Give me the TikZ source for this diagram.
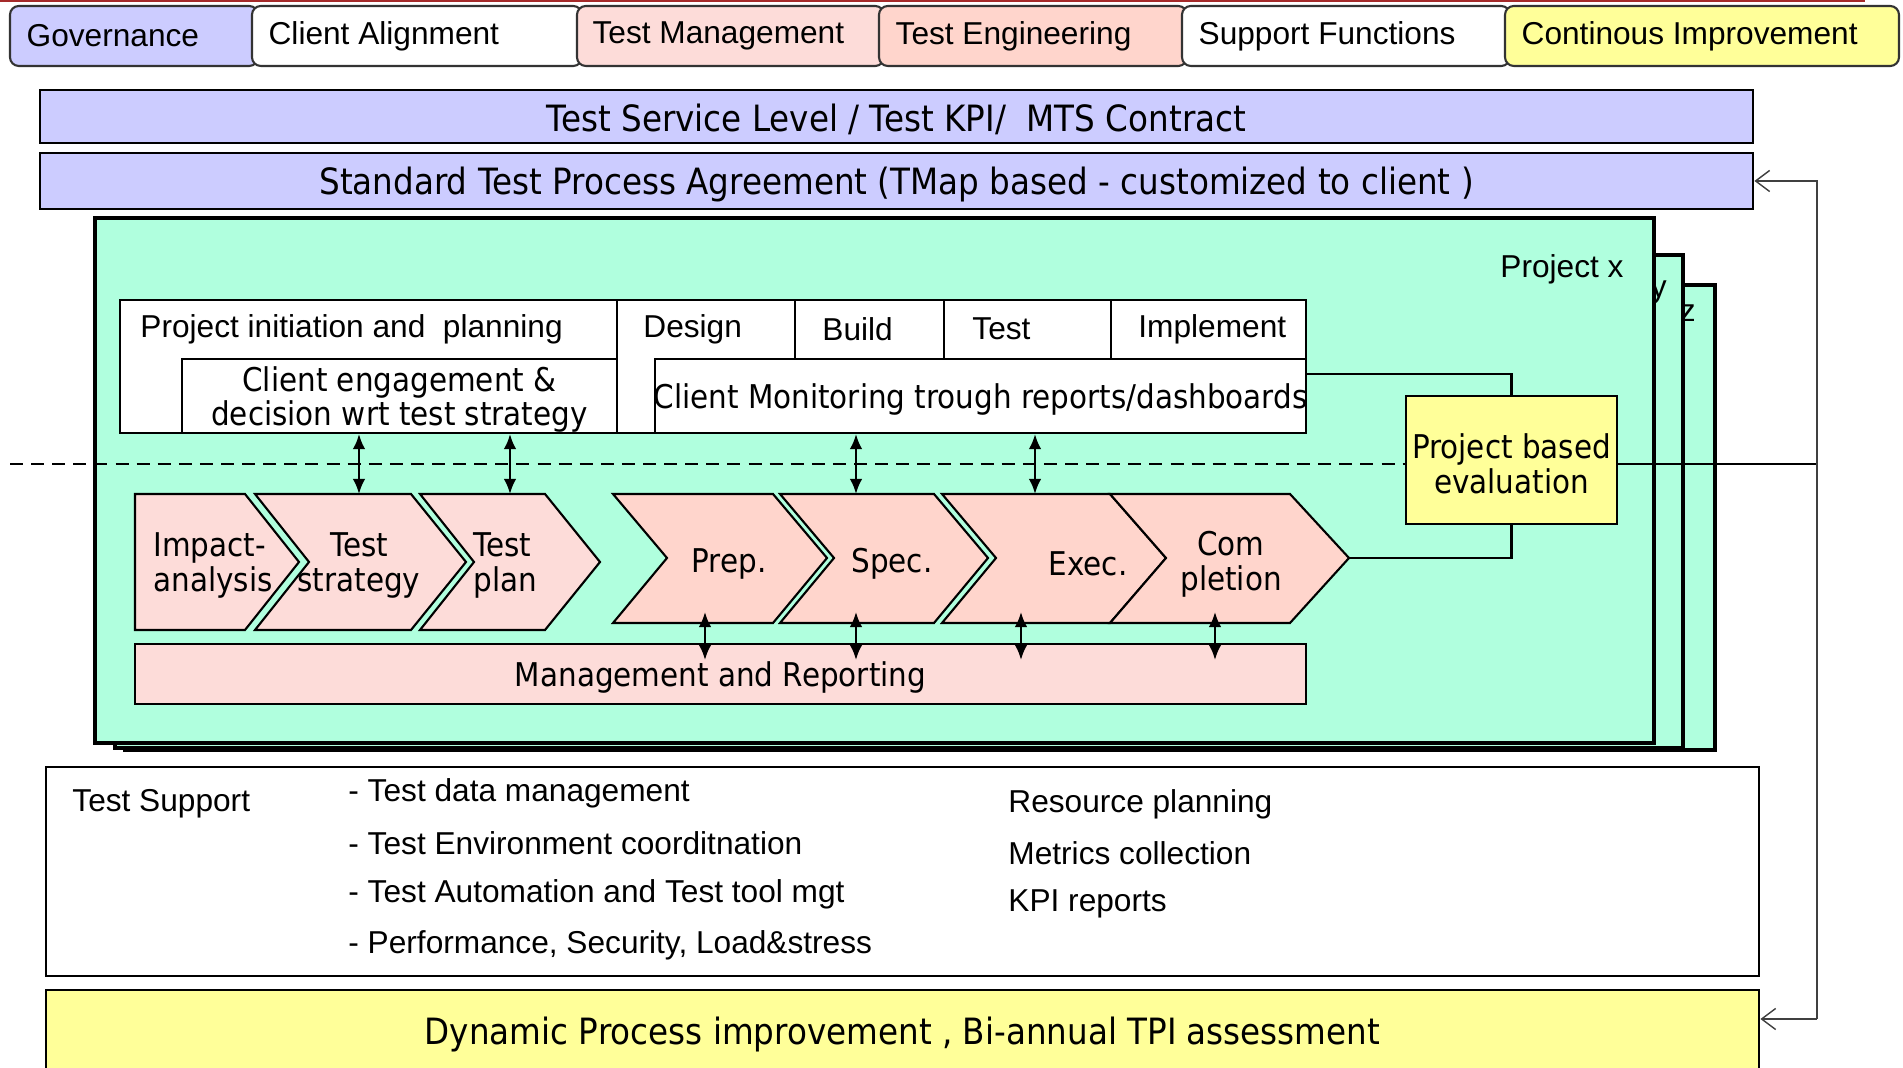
\documentclass[tikz,border=0pt]{standalone}
\usepackage{fontspec}
\newfontfamily\arialfont{Liberation Sans}
\newfontfamily\tahomafont[FakeStretch=0.9]{DejaVu Sans}
\usetikzlibrary{arrows.meta,positioning,fit}

\definecolor{govblue}{HTML}{CCCCFF}
\definecolor{mint}{HTML}{B0FFDE}
\definecolor{rose}{HTML}{FDDCD9}
\definecolor{salmon}{HTML}{FFD5CC}
\definecolor{lemon}{HTML}{FFFF99}
\definecolor{darkred}{HTML}{A52A2A}

\begin{document}
\begin{tikzpicture}[x=0.01cm, y=-0.01cm,
   ar/.style={font=\arialfont\fontsize{9}{9.8}\selectfont},
   ta/.style={font=\tahomafont\fontsize{9.3}{9.9}\selectfont, yshift=-1pt},
   tabig/.style={font=\tahomafont\fontsize{10.3}{11}\selectfont, yshift=-0.9pt},
   tab/.style={draw=black!80, line width=0.6pt, rounded corners=2.5pt, inner sep=0pt},
   bar/.style={draw, line width=0.8pt, fill=govblue, inner sep=0pt},
   proj/.style={draw, line width=1.3pt, fill=mint, inner sep=0pt},
   cell/.style={draw, line width=0.6pt, fill=white, inner sep=0pt},
   chevA/.style={draw, line width=0.6pt, fill=rose},
   chevB/.style={draw, line width=0.6pt, fill=salmon},
   dblarrow/.style={{Latex[length=4.3pt,width=3.6pt]}-{Latex[length=4.3pt,width=3.6pt]}, line width=0.7pt},
   fbarrow/.style={-{Straight Barb[length=4pt,width=6pt]}, line width=0.4pt, draw=black!75}]
   \useasboundingbox (0,0) rectangle (1903,1068);

   % tabs
   \draw[darkred, line width=0.8pt] (0,1) -- (1865,1);
   \node (gov) [tab, fill=govblue, fit={(10,6) (258,66)}] {};
   \node (govt) [ar, right=1.5pt of gov.west] {Governance};
   \node (cli) [tab, fill=white, fit={(252,6) (582,66)}] {};
   \node (clit) [ar, right=1.5pt of cli.west] {Client Alignment};
   \node (tm) [tab, fill=rose, fit={(577,6) (884,66)}] {};
   \node (tmt) [ar, right=1.2pt of tm.west] {Test Management};
   \node (te) [tab, fill=salmon, fit={(879,6) (1187,66)}] {};
   \node (tet) [ar, right=1.5pt of te.west] {Test Engineering};
   \node (sf) [tab, fill=white, fit={(1182,6) (1510,66)}] {};
   \node (sft) [ar, right=1.5pt of sf.west] {Support Functions};
   \node (ci) [tab, fill=lemon, fit={(1505,6) (1899,66)}] {};
   \node (cit) [ar, right=1.5pt of ci.west] {Continous Improvement};

   \node (kpi) [bar, fit={(40,90) (1753,143)}] {};
   \node (kpit) [tabig] at (kpi) {Test Service Level / Test KPI/\ \ MTS Contract};
   \node (stp) [bar, fit={(40,153) (1753,209)}] {};
   \node (stpt) [tabig] at (stp) {Standard Test Process Agreement (TMap based - customized to client )};

   % project stack
   \node (pz) [proj, line width=1.1pt, fit={(125,285) (1715,750)}] {};
   \node (pzt) [ar, anchor=east] at (1708,313) {z};
   \node (py) [proj, line width=1.1pt, fit={(115,255) (1683,748)}] {};
   \node (pyt) [ar, anchor=east] at (1679,292) {y};
   \node (px) [proj, fit={(95,218) (1654,743)}] {};
   \node (pxt) [ar, anchor=east] at (1636,269) {Project x};

   \node (pi) [cell, fit={(120,300) (617,433)}] {};
   \node (pit) [ar, anchor=west] at (128,329) {Project initiation and\ \ planning};
   \node (ce) [cell, fit={(182,359) (617,433)}] {};
   \node (cet) [ta, align=center] at (ce) {Client engagement \&\\decision wrt test strategy};
   \node (des) [cell, fit={(617,300) (795,433)}] {};
   \node (dest) [ar, anchor=west] at (631,329) {Design};
   \node (bld) [cell, fit={(795,300) (944,359)}] {};
   \node (bldt) [ar, anchor=west] at (810,329) {Build};
   \node (tst) [cell, fit={(944,300) (1111,359)}] {};
   \node (tstt) [ar, anchor=west] at (960,329) {Test};
   \node (imp) [cell, fit={(1111,300) (1306,359)}] {};
   \node (impt) [ar, anchor=west] at (1126,329) {Implement};
   \node (mon) [cell, fit={(655,359) (1306,433)}] {};
   \node (mont) [ta] at (mon) {Client Monitoring trough reports/dashboards};

   \coordinate (dl) at (10,464);
   \coordinate (fbt) at (1817,181);
   \coordinate (fbb) at (1817,1019);
   \node (eval) [cell, fill=lemon, fit={(1406,396) (1617,524)}] {};
   \node (evalt) [ta, align=center] at (eval) {Project based\\evaluation};
   \draw[line width=0.7pt, dash pattern=on 3.7pt off 2.3pt] (dl) -- (dl -| eval.west);
   \draw[line width=0.7pt] (dl -| eval.east) -- (dl -| fbt);
   \draw[line width=0.6pt] (mon.north east) ++(0,16) -| (eval.north);

   % phases
   \draw[chevA] (135,494) -- (245,494) -- (299,562) -- (245,630) -- (135,630) -- cycle;
   \draw[chevA] (255,494) -- (411,494) -- (466,562) -- (411,630) -- (255,630) -- (309,562) -- cycle;
   \draw[chevA] (420,494) -- (545,494) -- (600,562) -- (545,630) -- (420,630) -- (474,562) -- cycle;
   \node (ia) [ta, align=left, anchor=west] at (141,562) {Impact-\\analysis};
   \node (ts) [ta, align=center] at (359,562) {Test\\strategy};
   \node (tp) [ta, align=left, anchor=west] at (461,562) {Test\\plan};

   \draw[chevB] (613,494) -- (773,494) -- (827,558) -- (773,623) -- (613,623) -- (667,558) -- cycle;
   \draw[chevB] (780,494) -- (934,494) -- (988,558) -- (934,623) -- (780,623) -- (834,558) -- cycle;
   \draw[chevB] (942,494) -- (1110,494) -- (1166,558) -- (1110,623) -- (942,623) -- (996,558) -- cycle;
   \draw[chevB] (1110,494) -- (1290,494) -- (1349,558) coordinate (ctip) -- (1290,623) -- (1110,623) -- (1166,558) -- cycle;
   \node (prep) [ta] at (729,560) {Prep.};
   \node (spec) [ta] at (892,560) {Spec.};
   \node (exec) [ta] at (1088,560) {Exec.};
   \node (compl) [ta, align=center] at (1231,561) {Com\\pletion};

   \node (mgt) [cell, fill=rose, fit={(135,644) (1306,704)}] {};
   \node (mgtt) [ta] at (mgt) {Management and Reporting};
   \draw[line width=0.6pt] (ctip) -| (eval.south);

   \coordinate (rowtop) at (0,494);
   \coordinate (rowbot) at (0,612);
   \coordinate (mgtin) at (0,660);
   \foreach \x in {359,510}
      \draw[dblarrow] (ce.south -| \x,0) -- (\x,0 |- rowtop);
   \foreach \x in {856,1035}
      \draw[dblarrow] (mon.south -| \x,0) -- (\x,0 |- rowtop);
   \foreach \x in {705,856,1021,1215}
      \draw[dblarrow] (\x,0 |- rowbot) -- (\x,0 |- mgtin);

   % support
   \node (sup) [cell, line width=0.7pt, fit={(46,767) (1759,976)}] {};
   \node (supt) [ar, anchor=west] at (60,804) {Test Support};
   \node (s1) [ar, anchor=west] at (336,793) {- Test data management};
   \node (s2) [ar, anchor=west] at (336,843) {- Test Environment coorditnation};
   \node (s3) [ar, anchor=west] at (336,894) {- Test Automation and Test tool mgt};
   \node (s4) [ar, anchor=west] at (336,945) {- Performance, Security, Load\&stress};
   \node (r1) [ar, anchor=west] at (996,804) {Resource planning};
   \node (r2) [ar, anchor=west] at (996,853) {Metrics collection};
   \node (r3) [ar, anchor=west] at (996,904) {KPI reports};

   \node (dyn) [cell, fill=lemon, line width=0.8pt, fit={(46,990) (1759,1072)}] {};
   \node (dynt) [tabig] at (dyn) {Dynamic Process improvement , Bi-annual TPI assessment};

   \draw[fbarrow] (fbb) -- (fbt) -- (stp.east);
   \draw[fbarrow] (fbb) -- (fbb -| dyn.east);
\end{tikzpicture}
\end{document}
